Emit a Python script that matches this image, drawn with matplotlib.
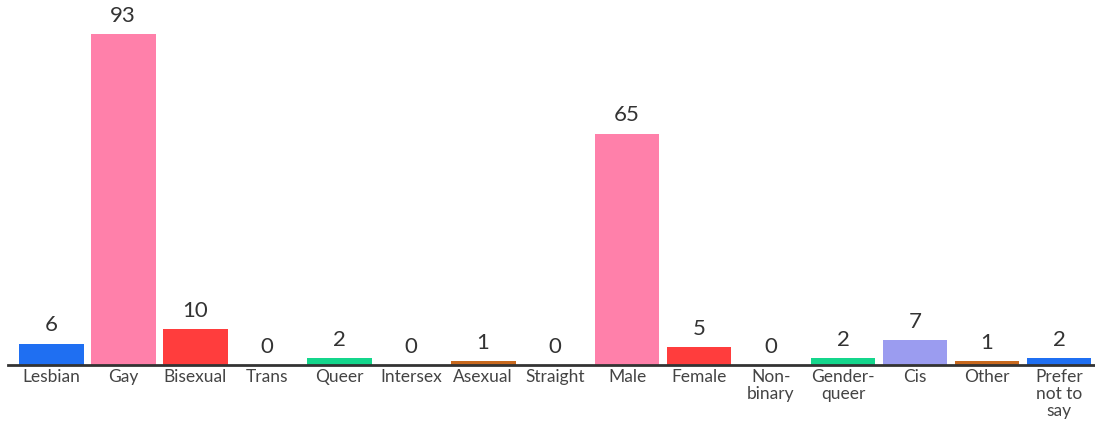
import matplotlib
matplotlib.use("Agg")
import matplotlib.pyplot as plt

categories = ["Lesbian", "Gay", "Bisexual", "Trans", "Queer", "Intersex", "Asexual",
              "Straight", "Male", "Female", "Non-\nbinary", "Gender-\nqueer", "Cis",
              "Other", "Prefer\nnot to\nsay"]
values = [6, 93, 10, 0, 2, 0, 1, 0, 65, 5, 0, 2, 7, 1, 2]
colors = ["#1f6ff2", "#ff80aa", "#ff3d3d", "#1f6ff2", "#14d68c", "#c8691e", "#c8691e",
          "#c8691e", "#ff80aa", "#ff3d3d", "#ff3d3d", "#14d68c", "#9b9cf0", "#c8691e", "#1f6ff2"]

plt.rcParams['font.family'] = ['Lato', 'DejaVu Sans']

fig = plt.figure(figsize=(10.95, 4.23), dpi=100)
ax = fig.add_axes([8/1095, (423-365)/423, 1 - 8/1095, 356/423])

x = list(range(len(categories)))
bars = ax.bar(x, values, width=0.9, color=colors)
for xi, v in zip(x, values):
    ax.annotate(str(v), (xi, v), xytext=(0, 6), textcoords="offset points",
                ha="center", va="bottom", fontsize=16, color="#333333")

ax.set_xlim(-0.6, 14.5)
ax.set_ylim(0, 100)
ax.set_xticks(x)
ax.set_xticklabels(categories, fontsize=12.5, color="#444444", linespacing=1.08)
ax.tick_params(axis="x", length=0, pad=3)
ax.set_yticks([])
for s in ["top", "right", "left"]:
    ax.spines[s].set_visible(False)
ax.spines["bottom"].set_color("#333333")
ax.spines["bottom"].set_linewidth(2)

fig.savefig("out.png", dpi=100)
